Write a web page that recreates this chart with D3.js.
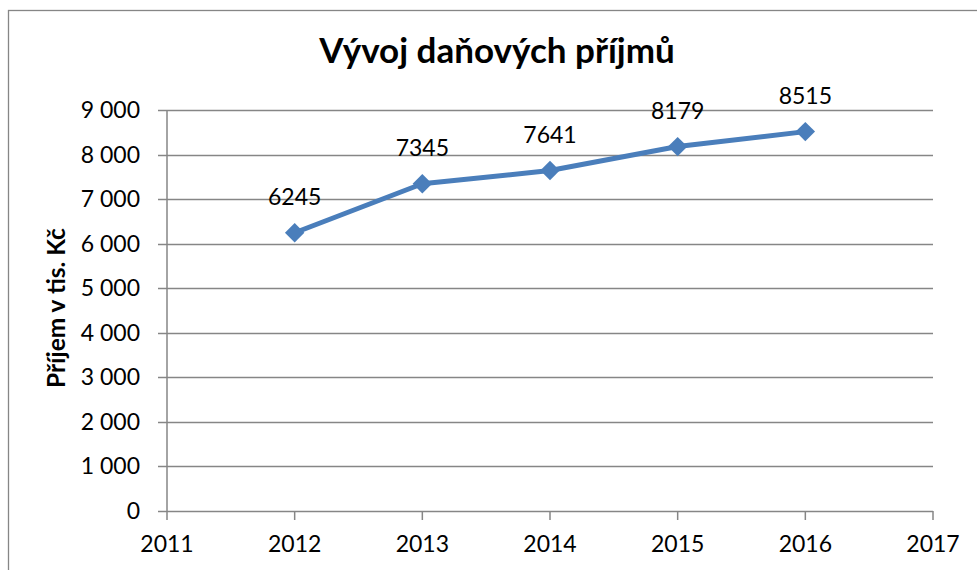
<!DOCTYPE html>
<html>
<head>
<meta charset="utf-8">
<script src="https://cdn.jsdelivr.net/npm/d3@7"></script>
<style>
  body { margin: 0; background: #fff; }
  svg { display: block; font-family: Lato, "Open Sans", sans-serif; }
</style>
</head>
<body>
<div id="chart"></div>
<script>
var years = [2012, 2013, 2014, 2015, 2016];
var values = [6245, 7345, 7641, 8179, 8515];
var xTicks = [2011, 2012, 2013, 2014, 2015, 2016, 2017];
var yTicks = [0, 1000, 2000, 3000, 4000, 5000, 6000, 7000, 8000, 9000];
var title = "Vývoj daňových příjmů";
var yTitle = "Příjem v tis. Kč";

var width = 977, height = 570;
var margin = {left: 167, right: 44, top: 110, bottom: 59};

var svg = d3.select("#chart").append("svg")
    .attr("width", width)
    .attr("height", height);

// outer chart border (cut at right / bottom like the reference)
svg.append("rect")
    .attr("x", 8.5).attr("y", 10.5)
    .attr("width", 1000).attr("height", 600)
    .style("fill", "none")
    .style("stroke", "#868686")
    .style("stroke-width", 1.3);

var x = d3.scaleLinear().domain([2011, 2017]).range([margin.left, width - margin.right]);
var y = d3.scaleLinear().domain([0, 9000]).range([height - margin.bottom, margin.top]);

var fmt = function(v) { return d3.format(",")(v).replace(/,/g, " "); };

// gridlines
svg.append("g").selectAll("line")
    .data(yTicks)
    .join("line")
    .attr("x1", margin.left - 9).attr("x2", x(2017))
    .attr("y1", function(d) { return Math.round(y(d)) + 0.5; })
    .attr("y2", function(d) { return Math.round(y(d)) + 0.5; })
    .style("stroke", "#868686")
    .style("stroke-width", 1.5);

// y axis line
svg.append("line")
    .attr("x1", margin.left).attr("x2", margin.left)
    .attr("y1", y(9000)).attr("y2", y(0) + 9)
    .style("stroke", "#868686").style("stroke-width", 1.5);

// x tick marks
svg.append("g").selectAll("line")
    .data(xTicks.slice(1))
    .join("line")
    .attr("x1", function(d) { return x(d); }).attr("x2", function(d) { return x(d); })
    .attr("y1", y(0)).attr("y2", y(0) + 9)
    .style("stroke", "#868686").style("stroke-width", 1.5);

// y tick labels
svg.append("g").selectAll("text")
    .data(yTicks)
    .join("text")
    .attr("x", margin.left - 27)
    .attr("y", function(d) { return y(d) + 8; })
    .attr("text-anchor", "end")
    .style("font-size", "23px")
    .text(fmt);

// x tick labels
svg.append("g").selectAll("text")
    .data(xTicks)
    .join("text")
    .attr("x", function(d) { return x(d); })
    .attr("y", y(0) + 41)
    .attr("text-anchor", "middle")
    .style("font-size", "23px")
    .text(function(d) { return d; });

// title
svg.append("text")
    .attr("x", 497).attr("y", 63)
    .attr("text-anchor", "middle")
    .style("font-size", "35px")
    .style("font-weight", "bold")
    .text(title);

// y axis title
svg.append("text")
    .attr("transform", "translate(65,308) rotate(-90)")
    .attr("text-anchor", "middle")
    .style("font-size", "24.5px")
    .style("font-weight", "bold")
    .text(yTitle);

var pts = years.map(function(d, i) { return [x(d), y(values[i])]; });

svg.append("path")
    .attr("d", d3.line()(pts))
    .style("fill", "none")
    .style("stroke", "#4a7ebb")
    .style("stroke-width", 5)
    .style("stroke-linejoin", "round");

svg.append("g").selectAll("path")
    .data(pts)
    .join("path")
    .attr("transform", function(d) { return "translate(" + d[0] + "," + d[1] + ")"; })
    .attr("d", d3.symbol().type(d3.symbolDiamond2).size(240))
    .style("fill", "#4a7ebb");

// data labels
svg.append("g").selectAll("text")
    .data(values)
    .join("text")
    .attr("x", function(d, i) { return x(years[i]); })
    .attr("y", function(d) { return y(d) - 28; })
    .attr("text-anchor", "middle")
    .style("font-size", "23px")
    .text(function(d) { return d; });
</script>
</body>
</html>
